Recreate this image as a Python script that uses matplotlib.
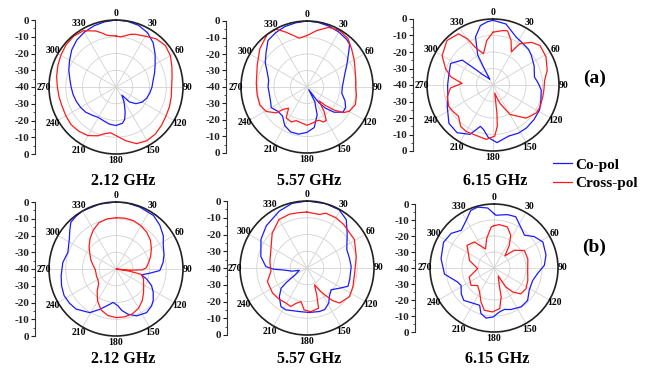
import numpy as np
import matplotlib
matplotlib.use('Agg')
import matplotlib.pyplot as plt

plt.rcParams['font.family'] = ['Liberation Serif', 'DejaVu Serif']
plt.rcParams['font.weight'] = 'bold'

W, H = 649, 369

# ---------------- data (angle in degrees, gain in dB) ----------------
# (a) 2.12 GHz
a212_co_ang = [0, 10, 20, 30, 40, 50, 60, 70, 80, 90, 100, 110, 120, 130, 138, 144, 150, 155, 160, 165, 170, 180,
               190, 200, 210, 220, 230, 240, 250, 260, 270, 280, 290, 300, 310, 320, 330, 340, 350, 360]
a212_co_db = [0, -0.2, -0.8, -2.5, -5.5, -9.5, -13, -15.5, -17.5, -18.5, -19.5, -20.5, -22, -24.5, -28, -34, -31, -28,
              -24, -20, -18, -17, -17.5, -18.5, -19, -18, -16.5, -15.6, -14.8, -14, -13.2, -12, -10, -8, -5.5, -3.5,
              -2.2, -1.2, -0.5, 0]
a212_cx_ang = [0, 5, 10, 15, 20, 30, 40, 50, 60, 70, 80, 90, 100, 110, 120, 130, 140, 150, 160, 170, 180, 187, 195,
               200, 210, 220, 230, 240, 250, 260, 270, 280, 290, 300, 310, 320, 330, 340, 345, 350, 355, 360]
a212_cx_db = [-9.5, -10, -9, -7.5, -6.5, -5, -2.5, -1.5, -2.5, -4.5, -6, -6.8, -6.5, -6, -5.5, -4.5, -3.4, -3, -4,
              -7.5, -11, -12.5, -11, -9, -6.5, -5.5, -5, -5.5, -5.8, -5.5, -5, -4, -3, -2, -1, -0.5, -1.2, -4.4,
              -6.5, -8.6, -9.3, -9.5]

# (a) 5.57 GHz
a557_co_ang = [0, 10, 20, 30, 40, 45, 50, 60, 70, 80, 90, 100, 110, 118, 125, 133, 139, 143, 147, 152, 160, 170, 180,
               190, 200, 210, 220, 230, 240, 250, 260, 270, 280, 290, 300, 310, 320, 330, 340, 350, 360]
a557_co_db = [0, -0.3, -0.8, -1.5, -2.5, -3.5, -7, -12, -15.5, -17.5, -18.6, -18.6, -15.5, -13.5, -13.4, -17.6, -23,
              -28, -38, -30, -22, -15, -12.5, -11, -11, -13, -17, -17, -15, -16.4, -16.8, -16.4, -16.4, -14.4, -10.8,
              -7.6, -3.2, -2, -1, -0.5, 0]
a557_cx_ang = [0, 10, 20, 30, 40, 50, 60, 70, 80, 90, 100, 110, 120, 125, 130, 135, 139, 145, 150, 155, 160, 165, 170,
               180, 189, 198, 204, 214, 221, 227, 230, 239, 249, 261, 274, 294, 309, 323, 332, 339, 345, 351, 360]
a557_cx_db = [-8.8, -5.2, -1.5, -0.5, -1.5, -4.6, -7, -9, -10, -10.5, -9.6, -8.8, -10.5, -13, -18, -24, -29, -22,
              -16.6, -16.6, -18.6, -18.6, -18, -16.8, -18, -18.6, -16.8, -17.4, -23, -20, -15.6, -11.2, -9.4, -9.4,
              -9.2, -7, -3.2, 0, -0.3, -4.4, -7.6, -10, -8.8]

# (a) 6.15 GHz
a615_co_ang = [0, 12, 26, 36, 45, 52, 65, 79, 88, 96, 108, 118, 130, 142, 152, 163, 176, 185, 192, 197, 205, 217, 229,
               245, 258, 270, 285, 297, 309, 312, 315, 324, 331, 332, 333, 340, 348, 355, 360]
a615_co_db = [-0.8, -2.2, -7.8, -9, -9.5, -10.6, -12.5, -14.4, -12.5, -10.6, -9.5, -8, -7.5, -7, -7, -7.6, -5, -8,
              -12.4, -13.8, -7, -3.8, -4.6, -9.4, -12, -12.5, -12.4, -11.2, -16, -26, -31, -34.6, -36, -28, -19.6, -9,
              -3.2, -1.5, -0.8]
a615_cx_ang = [0, 10, 15, 22, 29, 33, 42, 50, 62, 75, 85, 95, 103, 115, 123, 135, 150, 159, 163, 168, 172, 174, 178,
               187, 201, 210, 218, 228, 236, 244, 256, 266, 273, 281, 289, 300, 314, 326, 331, 335, 343, 352, 360]
a615_cx_db = [-8, -6.5, -6, -10.8, -17, -10.2, -5.2, -2.8, -3.6, -6, -8.6, -9, -9, -8.5, -8.8, -11.6, -19.4, -28, -32,
              -35, -23, -15, -9, -6.8, -7.8, -7.5, -8.2, -11.8, -11, -10.2, -11.4, -14.2, -21.2, -14, -9.6, -4.4, -1.2,
              -2.6, -8, -15, -20.2, -12.8, -8]

# (b) 2.12 GHz
b212_co_ang = [0, 9, 21, 35, 45, 55, 64, 73, 82, 92, 97, 103, 108, 115, 122, 130, 136, 145, 156, 165, 172, 177, 185,
               190, 202, 211, 225, 234, 243, 253, 263, 277, 289, 296, 303, 310, 316, 323, 330, 346, 360]
b212_co_db = [0, 0, -0.4, -1, -3, -5.5, -8.6, -10, -11.6, -13.8, -19.6, -24.4, -20.8, -16.6, -13.8, -11, -9.4, -8.2,
              -9.4, -12, -15, -18, -20, -18.6, -14, -9.6, -6.2, -5.5, -5.2, -6, -7, -8, -9.6, -8.5, -6.8, -4, -1.2,
              -0.5, 0, 0, 0]
b212_cx_ang = [0, 10, 20, 30, 40, 50, 60, 70, 80, 88, 92, 95, 97, 99, 102, 110, 120, 130, 140, 150, 160, 170, 180,
               190, 200, 210, 220, 230, 240, 250, 260, 270, 280, 290, 300, 310, 320, 330, 340, 350, 360]
b212_cx_db = [-9.4, -9.2, -9.3, -10.2, -11.4, -13.2, -15.6, -18, -20.4, -22, -24.5, -32, -40, -32, -24.5, -22.5, -21,
              -18.5, -15.5, -13, -11.5, -11, -11, -11.8, -14, -18, -22.5, -26.5, -27.5, -27.6, -27.8, -27.5, -26, -24,
              -22, -19, -16, -13, -10.5, -9.6, -9.4]

# (b) 5.57 GHz
b557_co_ang = [0, 16, 29, 39, 49, 65, 77, 88, 105, 114, 122, 132, 142, 148, 157, 164, 177, 190, 207, 214, 224, 232,
               235, 240, 253, 258, 265, 268, 272, 284, 302, 316, 334, 347, 360]
b557_co_db = [0, 0, -0.3, -2.8, -8.2, -13.8, -14, -13.6, -13.6, -13.2, -17.2, -20.6, -18.4, -15.4, -13, -13, -13.4,
              -13.6, -12, -12.2, -16.2, -20.4, -25, -31.8, -35.2, -31, -26, -20, -15.4, -11.6, -7.6, -5, -2.2, -0.4, 0]
b557_cx_ang = [0, 13, 19, 30, 40, 50, 59, 77, 96, 112, 124, 137, 142, 146, 150, 156, 160, 164, 175, 184, 190, 197,
               203, 211, 222, 234, 251, 265, 280, 297, 315, 330, 342, 352, 360]
b557_cx_db = [-6.6, -7.2, -5.4, -5.4, -6, -7, -7, -9.8, -11.4, -10.4, -9.4, -11.4, -15.4, -20.2, -24, -29, -23, -15,
              -13.8, -15, -19.6, -18, -15, -15.6, -15, -14.6, -15, -18.4, -17.5, -15.8, -10.6, -6.6, -6.2, -6.6, -6.6]

# (b) 6.15 GHz
b615_co_ang = [0, 2, 14, 23, 33, 43, 52, 62, 76, 87, 97, 108, 122, 134, 145, 158, 166, 173, 181, 189, 196, 201, 214,
               223, 232, 242, 249, 263, 280, 297, 309, 319, 330, 338, 345, 354, 360]
b615_co_db = [-6, -7, -5.6, -5.2, -9.4, -12, -8.1, -5.4, -6.5, -8.5, -12.5, -14.6, -14, -10.8, -10.4, -12, -13.3,
              -12.3, -9.4, -8.3, -10.4, -15, -14, -12.3, -14, -16.7, -15.6, -8.8, -6.4, -4.6, -5.6, -8.8, -5.4, -1.2,
              -0.6, -2.3, -6]
b615_cx_ang = [0, 7, 18, 27, 34, 42, 49, 60, 75, 97, 110, 123, 134, 142, 148, 152, 163, 166, 172, 182, 193, 201, 211,
               223, 233, 250, 268, 287, 310, 323, 331, 336, 346, 356, 360]
b615_cx_db = [-13.5, -12.7, -13, -17, -22.9, -29.8, -23.1, -18.1, -18.1, -18.8, -17.5, -16.2, -16.7, -21, -26, -34.4,
              -28.7, -21.4, -14.4, -12.5, -12.9, -17.3, -22.5, -25, -22, -23.5, -29.8, -24, -18, -19.6, -25, -27, -21,
              -14.4, -13.5]

titles = ['2.12 GHz', '5.57 GHz', '6.15 GHz']
series_names = ['Co-pol', 'Cross-pol']
row_labels = ['(a)', '(b)']
angle_ticks = list(range(0, 360, 30))
angle_labels = [str(a) for a in angle_ticks]
ring_ticks = [-30, -20, -10]
side_ticks = [0, 10, 20, 30, 40, 50, 60, 70, 80]
side_labels = ['0', '-10', '-20', '-30', '-40', '-30', '-20', '-10', '0']
side_minor = [5, 15, 25, 35, 45, 55, 65, 75]

BLUE = '#1a1aff'
RED = '#ff1a1a'

fig = plt.figure(figsize=(W / 100, H / 100), dpi=100)

# panel geometry in pixels: centre x, centre y, radius, side-axis x, title x, title y
panels = [
    (116, 87, 67, 35, 123, 181, titles[0], a212_co_ang, a212_co_db, a212_cx_ang, a212_cx_db),
    (307, 87, 66, 226, 309, 181, titles[1], a557_co_ang, a557_co_db, a557_cx_ang, a557_cx_db),
    (493, 85, 66, 413, 495, 181, titles[2], a615_co_ang, a615_co_db, a615_cx_ang, a615_cx_db),
    (116, 269, 67, 35, 123, 359, titles[0], b212_co_ang, b212_co_db, b212_cx_ang, b212_cx_db),
    (307, 268, 67, 227, 309, 359, titles[1], b557_co_ang, b557_co_db, b557_cx_ang, b557_cx_db),
    (494, 268, 64, 415, 497, 359, titles[2], b615_co_ang, b615_co_db, b615_cx_ang, b615_cx_db),
]

handles = None
for (cx, cy, R, sx, tx, ty, title, co_a, co_d, cr_a, cr_d) in panels:
    ax = fig.add_axes([(cx - R) / W, 1 - (cy + R) / H, 2 * R / W, 2 * R / H], projection='polar')
    ax.set_theta_zero_location('N')
    ax.set_theta_direction(-1)
    ax.set_ylim(-40, 0)
    ax.set_yticks(ring_ticks)
    ax.set_yticklabels([])
    ax.set_thetagrids(angle_ticks, [''] * len(angle_ticks))
    ax.tick_params(axis='x', length=0)
    ax.grid(color='#d2d2d2', lw=0.6)
    ax.spines['polar'].set_linewidth(1.2)
    ax.spines['polar'].set_color('#222222')
    # angle labels just outside the rim
    for a, lab in zip(angle_ticks, angle_labels):
        off_px = 5.0 + 1.8 * abs(np.cos(np.deg2rad(a)))
        ax.text(np.deg2rad(a), off_px * 40.0 / R, lab, ha='center', va='center',
                fontsize=7, fontweight='bold', clip_on=False)
    l1, = ax.plot(np.deg2rad(co_a), co_d, color=BLUE, lw=0.9)
    l2, = ax.plot(np.deg2rad(cr_a), cr_d, color=RED, lw=0.9)
    handles = [l1, l2]

    sa = fig.add_axes([sx / W, 1 - (cy + R) / H, 0.0005, 2 * R / H])
    sa.patch.set_visible(False)
    for s in ['right', 'top', 'bottom']:
        sa.spines[s].set_visible(False)
    sa.spines['left'].set_linewidth(0.8)
    sa.spines['left'].set_color('#333333')
    sa.set_xticks([])
    sa.set_ylim(0, 80)
    sa.set_yticks(side_ticks)
    sa.set_yticklabels(side_labels, fontsize=8, fontweight='bold')
    sa.set_yticks(side_minor, minor=True)
    sa.tick_params(axis='y', which='major', length=3, width=0.8, pad=1, colors='#222222')
    sa.tick_params(axis='y', which='minor', length=1.8, width=0.6, colors='#333333')

    fig.text(tx / W, 1 - ty / H, title, ha='center', va='center', fontsize=11.5, fontweight='bold')

fig.text(583 / W, 1 - 78 / H, row_labels[0], ha='left', va='center', fontsize=14, fontweight='bold')
fig.text(582 / W, 1 - 247 / H, row_labels[1], ha='left', va='center', fontsize=14, fontweight='bold')

fig.legend(handles, series_names, loc='center left', bbox_to_anchor=(553 / W, 1 - 174 / H),
           frameon=False, borderpad=0, borderaxespad=0, handlelength=1.25, handletextpad=0.2,
           labelspacing=0.32, prop={'family': 'Liberation Serif', 'weight': 'bold', 'size': 11})

fig.savefig('out.png', dpi=100)
